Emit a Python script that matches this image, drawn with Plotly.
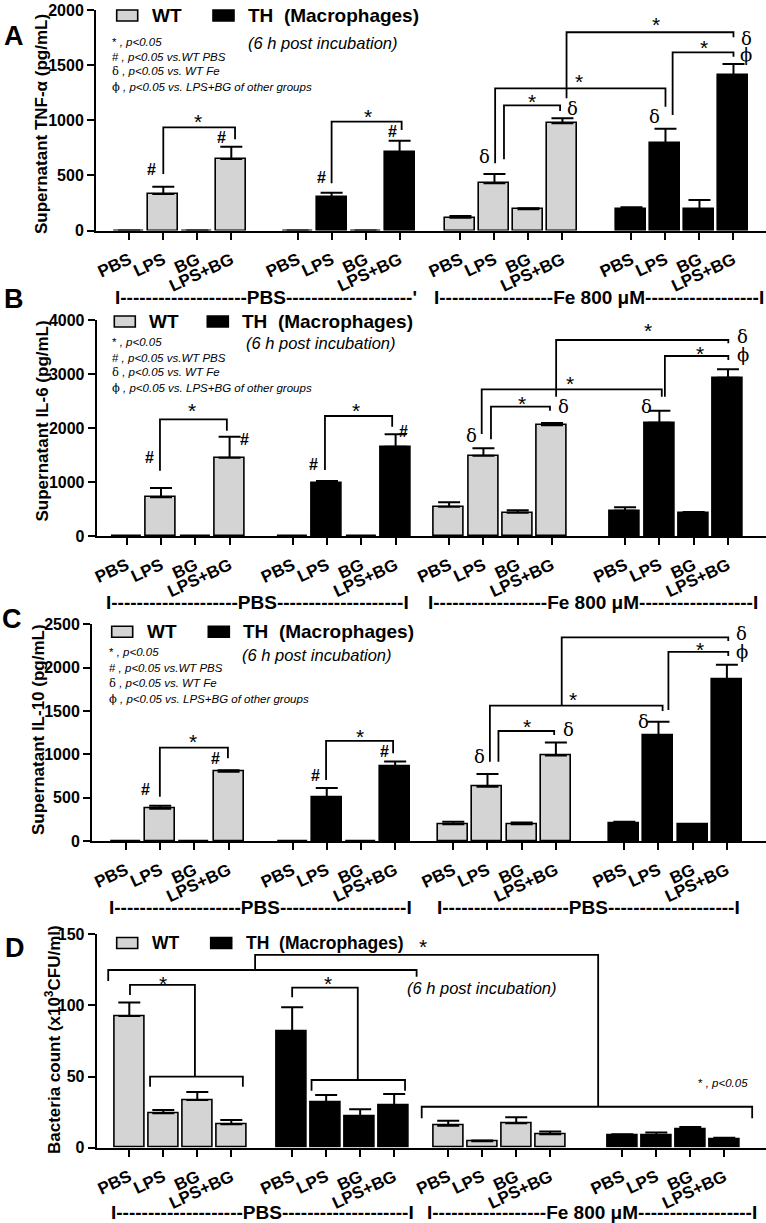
import plotly.graph_objects as go

W, H = 766, 1223
SANS = "Liberation Sans, Arial, sans-serif"
SERIF = "DejaVu Serif, Liberation Serif, serif"

categories = ["PBS", "LPS", "BG", "LPS+BG"]

# ---- Panel A: TNF-alpha (pg/mL) ----
tnf_wt_pbs = [0, 331, 0, 648]
tnf_wt_pbs_err = [0, 66, 0, 112]
tnf_th_pbs = [0, 301, 0, 709]
tnf_th_pbs_err = [0, 42, 0, 106]
tnf_wt_fe = [116, 428, 192, 972]
tnf_wt_fe_err = [15, 84, 9, 46]
tnf_th_fe = [192, 791, 195, 1410]
tnf_th_fe_err = [18, 132, 82, 100]

# ---- Panel B: IL-6 (pg/mL) ----
il6_wt_pbs = [0, 717, 0, 1450]
il6_wt_pbs_err = [0, 172, 0, 389]
il6_th_pbs = [0, 987, 0, 1654]
il6_th_pbs_err = [0, 31, 0, 229]
il6_wt_fe = [543, 1487, 432, 2049]
il6_wt_fe_err = [80, 136, 43, 44]
il6_th_fe = [469, 2099, 426, 2932]
il6_th_fe_err = [62, 222, 18, 154]

# ---- Panel C: IL-10 (pg/mL) ----
il10_wt_pbs = [0, 373, 0, 800]
il10_wt_pbs_err = [0, 35, 0, 16]
il10_th_pbs = [0, 500, 0, 858]
il10_th_pbs_err = [0, 112, 0, 58]
il10_wt_fe = [192, 627, 192, 985]
il10_wt_fe_err = [31, 146, 20, 150]
il10_th_fe = [204, 1216, 196, 1867]
il10_th_fe_err = [19, 161, 0, 165]

# ---- Panel D: bacteria count (x10^3 CFU/ml) ----
bac_wt_pbs = [92.6, 24.2, 33.5, 16.4]
bac_wt_pbs_err = [9.4, 2.3, 5.7, 3.1]
bac_th_pbs = [81.6, 31.9, 22.1, 29.5]
bac_th_pbs_err = [17.1, 5.1, 4.9, 8.3]
bac_wt_fe = [15.5, 4.5, 17.2, 9.4]
bac_wt_fe_err = [3.5, 0.5, 4.2, 1.9]
bac_th_fe = [8.9, 8.9, 12.9, 6.1]
bac_th_fe_err = [0.5, 1.7, 1.6, 0.9]

WT_COLOR = "#d4d4d4"
TH_COLOR = "#000000"

# significance annotations: brackets as polylines of (category index, offset, y)
brackets_A = [
    [(1, 0, 512), (1, 0, 936), (3, 0.11, 936), (3, 0.11, 827)],
    [(5, 0, 428), (5, 0, 987), (7, 0.06, 987), (7, 0.06, 912)],
    [(9, 0.28, 646), (9, 0.28, 1135), (11, -0.07, 1135), (11, -0.07, 1084)],
    [(9, 0.02, 609), (9, 0.02, 1289), (13, 0, 1289), (13, 0, 1123)],
    [(11, 0.12, 1199), (11, 0.12, 1798), (15, 0, 1798), (15, 0, 1752)],
    [(13, 0.21, 1048), (13, 0.21, 1616), (15, 0, 1616), (15, 0, 1576)],
]
stars_A = [(2, 0.03, 1032), (6, 0.08, 1077), (10, 0.11, 1214), (11, 0.5, 1395), (13, -0.28, 1915), (14, 0.13, 1703)]
hashes_A = [(1, -0.36, 555), (3, -0.28, 842), (5, -0.29, 482), (7, -0.2, 896)]
deltas_A = [(9, -0.28, 669), (11, 0.3, 1108), (13, -0.31, 1032), (15, 0.37, 1743)]
phis_A = [(15, 0.37, 1592)]

brackets_B = [
    [(1, -0.03, 1209), (1, -0.03, 2161), (3, -0.08, 2161), (3, -0.08, 1950)],
    [(5, -0.06, 1222), (5, -0.06, 2222), (7, -0.1, 2222), (7, -0.1, 2024)],
    [(9, 0.22, 1790), (9, 0.22, 2395), (11, -0.06, 2395), (11, -0.06, 2321)],
    [(9, -0.05, 1889), (9, -0.05, 2716), (13, 0.07, 2716), (13, 0.07, 2580)],
    [(11, 0.12, 2580), (11, 0.12, 3630), (15, 0.01, 3630), (15, 0.01, 3568)],
    [(13, 0.16, 2580), (13, 0.16, 3333), (15, 0.01, 3333), (15, 0.01, 3259)],
]
stars_B = [(2, -0.1, 2426), (6, -0.15, 2426), (10, 0.12, 2549), (11, 0.53, 2920), (13, -0.32, 3907), (14, 0.18, 3476)]
hashes_B = [(1, -0.34, 1450), (3, 0.43, 1790), (5, -0.4, 1315), (7, 0.22, 1932)]
deltas_B = [(9, -0.34, 1870), (11, 0.32, 2407), (13, -0.37, 2395), (15, 0.43, 3691)]
phis_B = [(15, 0.43, 3370)]

brackets_C = [
    [(1, -0.01, 511), (1, -0.01, 1077), (3, -0.02, 1077), (3, -0.02, 954)],
    [(5, -0.02, 704), (5, -0.02, 1154), (7, -0.06, 1154), (7, -0.06, 1012)],
    [(9, 0.32, 915), (9, 0.32, 1269), (11, -0.05, 1269), (11, -0.05, 1223)],
    [(9, 0.07, 915), (9, 0.07, 1561), (13, 0.12, 1561), (13, 0.12, 1500)],
    [(11, 0.17, 1561), (11, 0.17, 2350), (15, 0.04, 2350), (15, 0.04, 2308)],
    [(13, 0.29, 1512), (13, 0.29, 2181), (15, 0.04, 2181), (15, 0.04, 2135)],
]
stars_C = [(2, -0.04, 1203), (6, -0.03, 1261), (10, 0.15, 1377), (11, 0.51, 1685), (13, -0.2, 2512), (14, 0.21, 2262)]
hashes_C = [(1, -0.42, 589), (3, -0.37, 955), (5, -0.34, 750), (7, -0.3, 1030)]
deltas_C = [(9, -0.24, 973), (11, 0.36, 1281), (13, -0.44, 1377), (15, 0.43, 2396)]
phis_C = [(15, 0.43, 2186)]

brackets_D = [
    [(1, -0.39, 42.9), (1, -0.39, 49.9), (3, 0.34, 49.9), (3, 0.34, 42.9)],
    [(2, -0.07, 49.9), (2, -0.07, 114.4), (0, 0.02, 114.4), (0, 0.02, 107.3)],
    [(5, -0.43, 40.1), (5, -0.43, 47.6), (7, 0.32, 47.6), (7, 0.32, 40.1)],
    [(6, -0.07, 47.6), (6, -0.07, 112.5), (4, 0, 112.5), (4, 0, 105.7)],
    [(0, -0.62, 117.2), (0, -0.62, 124.9), (7, 0.66, 124.9), (7, 0.66, 120.2)],
    [(3, 0.7, 124.9), (3, 0.7, 135.5), (11, 1.41, 135.5), (11, 1.41, 28.8)],
    [(8, -0.78, 20.7), (8, -0.78, 28.8), (15, 0.82, 28.8), (15, 0.82, 20.7)],
]
stars_D = [(1, 0, 119.1), (5, 0.05, 119.1), (7, 0.84, 144.8)]

PBS_LABEL = "I" + "-" * 20 + "PBS" + "-" * 20 + "I"
FE_LABEL = "I" + "-" * 18 + "Fe 800 \u03bcM" + "-" * 18 + "I"

panels = [
    dict(letter="A", data=[(tnf_wt_pbs, tnf_wt_pbs_err), (tnf_th_pbs, tnf_th_pbs_err),
                           (tnf_wt_fe, tnf_wt_fe_err), (tnf_th_fe, tnf_th_fe_err)],
         axis_px=96, y0_px=230.5, ytop_px=10, start_px=129.3, step_px=34,
         offs=[0, 4.95, 9.74, 14.77], ymax=2000, dtick=500,
         title="Supernatant TNF-\u03b1 (pg/mL)", title_xy=(41, 124), letter_xy=(14, 36),
         legend_y=15.5, legend_x=[116.7, 213], legend_size=19, stats_xy=(110, [41.7, 56.7, 71, 87.3]),
         incub_xy=(323, 43),
         labels=[("I" + "-" * 20 + "PBS" + "-" * 20 + "'", 266, 297),
                 (FE_LABEL, 599, 297)],
         brackets=brackets_A, stars=stars_A, hashes=hashes_A, deltas=deltas_A, phis=phis_A,
         pvalue=None),
    dict(letter="B", data=[(il6_wt_pbs, il6_wt_pbs_err), (il6_th_pbs, il6_th_pbs_err),
                           (il6_wt_fe, il6_wt_fe_err), (il6_th_fe, il6_th_fe_err)],
         axis_px=96.7, y0_px=536, ytop_px=320, start_px=126.7, step_px=34.3,
         offs=[0, 4.84, 9.4, 14.53], ymax=4000, dtick=1000,
         title="Supernatant IL-6 (pg/mL)", title_xy=(41.5, 421), letter_xy=(14, 299),
         legend_y=321.5, legend_x=[114.3, 207.3], legend_size=19, stats_xy=(110, [341.7, 357.7, 372.3, 388.3]),
         incub_xy=(321, 343.3),
         labels=[(PBS_LABEL, 257.5, 602.5), (FE_LABEL, 593, 602.5)],
         brackets=brackets_B, stars=stars_B, hashes=hashes_B, deltas=deltas_B, phis=phis_B,
         pvalue=None),
    dict(letter="C", data=[(il10_wt_pbs, il10_wt_pbs_err), (il10_th_pbs, il10_th_pbs_err),
                           (il10_wt_fe, il10_wt_fe_err), (il10_th_fe, il10_th_fe_err)],
         axis_px=92, y0_px=841, ytop_px=624.3, start_px=126, step_px=34.2,
         offs=[0, 4.87, 9.57, 14.57], ymax=2500, dtick=500,
         title="Supernatant IL-10 (pg/mL)", title_xy=(38, 730), letter_xy=(12, 619),
         legend_y=631.7, legend_x=[111.7, 208.3], legend_size=19, stats_xy=(107, [651.7, 668.3, 683.3, 699]),
         incub_xy=(317, 655),
         labels=[(PBS_LABEL, 260, 907), (PBS_LABEL, 588, 907)],
         brackets=brackets_C, stars=stars_C, hashes=hashes_C, deltas=deltas_C, phis=phis_C,
         pvalue=None),
    dict(letter="D", data=[(bac_wt_pbs, bac_wt_pbs_err), (bac_th_pbs, bac_th_pbs_err),
                           (bac_wt_fe, bac_wt_fe_err), (bac_th_fe, bac_th_fe_err)],
         axis_px=96.7, y0_px=1147.7, ytop_px=934.3, start_px=129.3, step_px=34,
         offs=[0, 4.79, 9.38, 14.5], ymax=150, dtick=50,
         title="Bacteria count (x10<sup>3</sup>CFU/ml)", title_xy=(53, 1040), letter_xy=(15, 948),
         legend_y=943, legend_x=[116.7, 210.7], legend_size=17.5, stats_xy=None,
         incub_xy=(482.5, 988.3),
         labels=[(PBS_LABEL, 262, 1212), (FE_LABEL, 591.5, 1212)],
         brackets=brackets_D, stars=stars_D, hashes=[], deltas=[], phis=[],
         pvalue=(750, 1083.3)),
]


def fx(px):
    return px / W


def fy(py):
    return 1 - py / H


fig = go.Figure()
shapes = []
annotations = []

for n, p in enumerate(panels, start=1):
    xa = "x" if n == 1 else f"x{n}"
    ya = "y" if n == 1 else f"y{n}"
    offs = p["offs"]

    def pos(k, d=0.0, offs=offs):
        return offs[k // 4] + (k % 4) + d

    bar_w = 30 / p["step_px"]
    for g, (vals, errs) in enumerate(p["data"]):
        xs = [offs[g] + i for i in range(4)]
        fig.add_trace(go.Bar(
            x=xs, y=vals, width=bar_w, xaxis=xa, yaxis=ya,
            marker=dict(color=WT_COLOR if g % 2 == 0 else TH_COLOR,
                        line=dict(color="black", width=1.6)),
            error_y=dict(type="data", symmetric=False, array=errs, arrayminus=[0] * 4,
                         color="black", thickness=2, width=11),
            showlegend=False, hoverinfo="skip"))

    tickvals = [offs[g] + i for g in range(4) for i in range(4)]
    x0 = (p["axis_px"] - p["start_px"]) / p["step_px"]
    x1 = (W - p["start_px"]) / p["step_px"]
    axis_common = dict(showline=True, linecolor="black", linewidth=2, ticks="outside",
                       ticklen=7, tickwidth=2, tickcolor="black", showgrid=False,
                       zeroline=False, automargin=False)
    fig.layout[f"xaxis{'' if n == 1 else n}"] = dict(
        domain=[fx(p["axis_px"]), 1], range=[x0, x1], anchor=ya,
        tickvals=tickvals, ticktext=categories * 4, tickangle=-25, ticklabelstandoff=4,
        tickfont=dict(family=SANS, size=17, color="black", weight="bold"), **axis_common)
    fig.layout[f"yaxis{'' if n == 1 else n}"] = dict(
        domain=[fy(p["y0_px"]), fy(p["ytop_px"])], range=[0, p["ymax"]], anchor=xa,
        dtick=p["dtick"], tick0=0,
        tickfont=dict(family=SANS, size=16, color="black", weight="bold"), **axis_common)

    # brackets
    for br in p["brackets"]:
        path = "M " + " L ".join(f"{pos(k, d)},{y}" for k, d, y in br)
        shapes.append(dict(type="path", path=path, xref=xa, yref=ya,
                           line=dict(color="black", width=1.8)))
    for k, d, y in p["stars"]:
        annotations.append(dict(x=pos(k, d), y=y, xref=xa, yref=ya, text="*", showarrow=False,
                                font=dict(family=SANS, size=21, color="black"), yshift=-5))
    for k, d, y in p["hashes"]:
        annotations.append(dict(x=pos(k, d), y=y, xref=xa, yref=ya, text="#", showarrow=False,
                                font=dict(family=SANS, size=16, color="black", weight="bold")))
    for k, d, y in p["deltas"]:
        annotations.append(dict(x=pos(k, d), y=y, xref=xa, yref=ya, text="\u03b4", showarrow=False,
                                font=dict(family=SERIF, size=18, color="black")))
    for k, d, y in p["phis"]:
        annotations.append(dict(x=pos(k, d), y=y, xref=xa, yref=ya, text="\u03d5", showarrow=False,
                                font=dict(family=SERIF, size=18, color="black")))

    # panel letter
    lx, ly = p["letter_xy"]
    annotations.append(dict(x=fx(lx), y=fy(ly), xref="paper", yref="paper", text=p["letter"],
                            showarrow=False, xanchor="center", yanchor="middle",
                            font=dict(family=SANS, size=27, color="black", weight="bold")))
    # y axis title
    tx, ty = p["title_xy"]
    annotations.append(dict(x=fx(tx), y=fy(ty), xref="paper", yref="paper", text=p["title"],
                            textangle=-90, showarrow=False, xanchor="center", yanchor="middle",
                            font=dict(family=SANS, size=17, color="black", weight="bold")))
    # legend
    ly = p["legend_y"]
    for j, (bx, col, lab) in enumerate(zip(p["legend_x"], [WT_COLOR, TH_COLOR],
                                           ["WT", "TH\u00a0\u00a0(Macrophages)"])):
        shapes.append(dict(type="rect", xref="paper", yref="paper",
                           x0=fx(bx), x1=fx(bx + 21), y0=fy(ly + 5.5), y1=fy(ly - 5.5),
                           fillcolor=col, line=dict(color="black", width=1.6)))
        annotations.append(dict(x=fx(bx + 33), y=fy(ly), xref="paper", yref="paper", text=lab,
                                showarrow=False, xanchor="left", yanchor="middle",
                                font=dict(family=SANS, size=p["legend_size"], color="black",
                                          weight="bold")))
    # incubation note
    ix, iy = p["incub_xy"]
    annotations.append(dict(x=fx(ix), y=fy(iy), xref="paper", yref="paper",
                            text="<i>(6 h post incubation)</i>", showarrow=False,
                            xanchor="center", yanchor="middle",
                            font=dict(family=SANS, size=16.5, color="black")))
    # stats key
    if p["stats_xy"]:
        sx, sys_ = p["stats_xy"]
        key = [("*", SANS, " , p&lt;0.05"),
               ("#", SANS, " , p&lt;0.05 vs.WT PBS"),
               ("\u03b4", SERIF, " , p&lt;0.05 vs. WT Fe"),
               ("\u03d5", SERIF, " , p&lt;0.05 vs. LPS+BG of other groups")]
        for (sym, fam, txt), yy in zip(key, sys_):
            annotations.append(dict(
                x=fx(sx), y=fy(yy), xref="paper", yref="paper",
                text=f"<span style='font-family:{fam}'>{sym}</span><i>{txt}</i>",
                showarrow=False, xanchor="left", yanchor="middle",
                font=dict(family=SANS, size=11.5, color="black")))
    if p["pvalue"]:
        px_, py_ = p["pvalue"]
        annotations.append(dict(x=fx(px_), y=fy(py_), xref="paper", yref="paper",
                                text="*<i> , p&lt;0.05</i>", showarrow=False,
                                xanchor="right", yanchor="middle",
                                font=dict(family=SANS, size=11.5, color="black")))
    # group labels
    for txt, cx, cy in p["labels"]:
        annotations.append(dict(x=fx(cx), y=fy(cy), xref="paper", yref="paper", text=txt,
                                showarrow=False, xanchor="center", yanchor="middle",
                                font=dict(family=SANS, size=19, color="black", weight="bold")))

fig.update_layout(
    template="none", width=W, height=H, autosize=False,
    margin=dict(l=0, r=0, t=0, b=0),
    paper_bgcolor="white", plot_bgcolor="rgba(0,0,0,0)",
    barmode="overlay", bargap=0,
    font=dict(family=SANS, color="black"),
    shapes=shapes, annotations=annotations, showlegend=False,
)

fig.write_html("out.html", config={"displayModeBar": False},
               post_script="document.body.style.margin='0';document.body.style.overflow='hidden';")
